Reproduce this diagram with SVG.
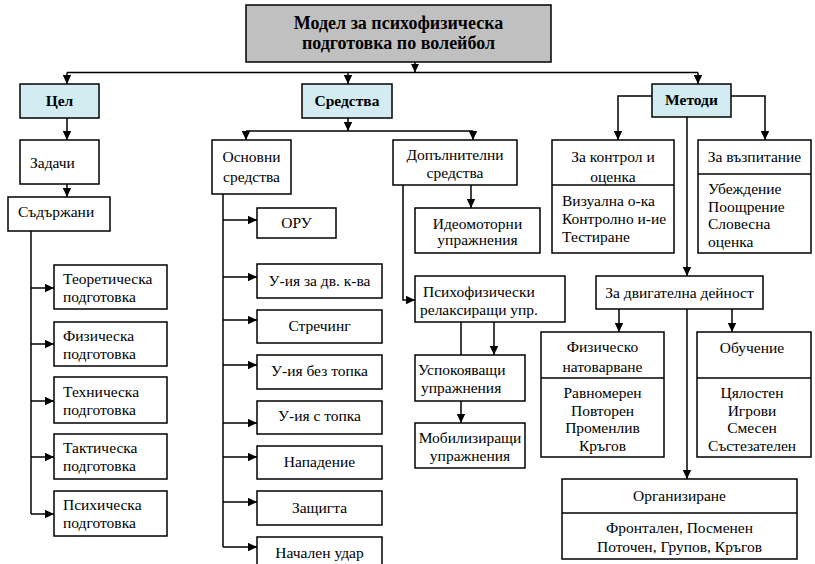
<svg xmlns="http://www.w3.org/2000/svg" width="815" height="564" viewBox="0 0 815 564" font-family="'Liberation Serif', 'DejaVu Serif', serif">
<style>
.b{fill:#fff;stroke:#000;stroke-width:1.5}
.hb{fill:#d2ecf1;stroke:#000;stroke-width:1.5}
.tb{fill:#c0c0c0;stroke:#000;stroke-width:1.5}
text{font-family:'Liberation Serif','DejaVu Serif',serif;font-size:15.5px;fill:#000}
.c{text-anchor:middle}
.bold{font-weight:bold}
.t{font-size:18px;font-weight:bold;text-anchor:middle}
#connectors path{fill:none;stroke:#000;stroke-width:1.5}
.dv{stroke:#000;stroke-width:1.5}
</style>
<defs>
<marker id="a" markerWidth="9" markerHeight="9" refX="9" refY="4.5" orient="auto" markerUnits="userSpaceOnUse"><path d="M0,0.3 L9,4.5 L0,8.7 z" fill="#000"/></marker>
</defs>
<rect width="815" height="564" fill="#fff"/>
<g id="connectors">
<path d="M415,62 V72.5" marker-end="url(#a)"/>
<path d="M67,72.5 H698"/>
<path d="M67,72.5 V84" marker-end="url(#a)"/>
<path d="M348,72.5 V84" marker-end="url(#a)"/>
<path d="M698,72.5 V84" marker-end="url(#a)"/>
<path d="M67,118 V140" marker-end="url(#a)"/>
<path d="M67,184 V197" marker-end="url(#a)"/>
<path d="M31,231 V514"/>
<path d="M31,288 H54" marker-end="url(#a)"/>
<path d="M31,344 H54" marker-end="url(#a)"/>
<path d="M31,401 H54" marker-end="url(#a)"/>
<path d="M31,457 H54" marker-end="url(#a)"/>
<path d="M31,514 H54" marker-end="url(#a)"/>
<path d="M348,118 V131" marker-end="url(#a)"/>
<path d="M246,131 H473"/>
<path d="M246,131 V140" marker-end="url(#a)"/>
<path d="M473,131 V140" marker-end="url(#a)"/>
<path d="M223,194 V547"/>
<path d="M223,220 H257" marker-end="url(#a)"/>
<path d="M223,277 H257" marker-end="url(#a)"/>
<path d="M223,320 H257" marker-end="url(#a)"/>
<path d="M223,365 H257" marker-end="url(#a)"/>
<path d="M223,423 H257" marker-end="url(#a)"/>
<path d="M223,457 H257" marker-end="url(#a)"/>
<path d="M223,502 H257" marker-end="url(#a)"/>
<path d="M223,547 H257" marker-end="url(#a)"/>
<path d="M471,185 V208" marker-end="url(#a)"/>
<path d="M403,185 V300 H415" marker-end="url(#a)"/>
<path d="M461,322 V423" marker-end="url(#a)"/>
<path d="M494,322 V355" marker-end="url(#a)"/>
<path d="M652,96 H618 V140" marker-end="url(#a)"/>
<path d="M731,96 H765 V140" marker-end="url(#a)"/>
<path d="M687,117 V276" marker-end="url(#a)"/>
<path d="M687,309 V479" marker-end="url(#a)"/>
<path d="M619,309 V332" marker-end="url(#a)"/>
<path d="M732,309 V332" marker-end="url(#a)"/>
</g>
<g id="title"><rect class="tb" x="246" y="5" width="305" height="57"/><text class="t" x="398.5" y="29">Модел за психофизическа</text><text class="t" x="398.5" y="49">подготовка по волейбол</text></g>
<g id="cel"><rect class="hb" x="20" y="84" width="79" height="34"/><text class="c bold" x="59.5" y="106">Цел</text></g>
<g id="zadachi"><rect class="b" x="20" y="140" width="79" height="44"/><text x="30" y="168">Задачи</text></g>
<g id="sadarzhani"><rect class="b" x="8" y="197" width="102" height="34"/><text x="18" y="217">Съдържани</text></g>
<g id="teor"><rect class="b" x="54" y="265" width="113" height="44"/><text x="63" y="284">Теоретическа</text><text x="63" y="302">подготовка</text></g>
<g id="fiz"><rect class="b" x="54" y="322" width="113" height="44"/><text x="63" y="341">Физическа</text><text x="63" y="359">подготовка</text></g>
<g id="teh"><rect class="b" x="54" y="377" width="113" height="46"/><text x="63" y="397">Техническа</text><text x="63" y="415">подготовка</text></g>
<g id="takt"><rect class="b" x="54" y="434" width="113" height="45"/><text x="63" y="453">Тактическа</text><text x="63" y="471">подготовка</text></g>
<g id="psih"><rect class="b" x="54" y="491" width="113" height="45"/><text x="63" y="510">Психическа</text><text x="63" y="528">подготовка</text></g>
<g id="sredstva"><rect class="hb" x="302" y="84" width="90" height="34"/><text class="c bold" x="347" y="106">Средства</text></g>
<g id="osnovni"><rect class="b" x="212" y="140" width="79" height="54"/><text class="c" x="251.5" y="162">Основни</text><text class="c" x="251.5" y="182">средства</text></g>
<g id="oru"><rect class="b" x="257" y="208" width="79" height="30"/><text class="c" x="296.5" y="228">ОРУ</text></g>
<g id="dvk"><rect class="b" x="257" y="264" width="125" height="34"/><text class="c" x="319.5" y="286">У-ия за дв. к-ва</text></g>
<g id="strech"><rect class="b" x="257" y="310" width="125" height="33"/><text class="c" x="319.5" y="331">Стречинг</text></g>
<g id="beztopka"><rect class="b" x="257" y="355" width="125" height="34"/><text class="c" x="319.5" y="376">У-ия без топка</text></g>
<g id="stopka"><rect class="b" x="257" y="401" width="125" height="33"/><text class="c" x="319.5" y="421">У-ия с топка</text></g>
<g id="napadenie"><rect class="b" x="257" y="446" width="125" height="33"/><text class="c" x="319.5" y="467">Нападение</text></g>
<g id="zashtita"><rect class="b" x="257" y="491" width="125" height="34"/><text class="c" x="319.5" y="513">Защигта</text></g>
<g id="nachalen"><rect class="b" x="257" y="537" width="125" height="34"/><text class="c" x="319.5" y="558">Начален удар</text></g>
<g id="dopalnitelni"><rect class="b" x="393" y="140" width="124" height="45"/><text class="c" x="455" y="160">Допълнителни</text><text class="c" x="455" y="178">средства</text></g>
<g id="ideomotorni"><rect class="b" x="415" y="208" width="125" height="45"/><text class="c" x="477.5" y="229">Идеомоторни</text><text class="c" x="477.5" y="245">упражнения</text></g>
<g id="psihofiz"><rect class="b" x="415" y="276" width="150" height="46"/><text x="423" y="297">Психофизически</text><text x="420" y="315">релаксиращи упр.</text></g>
<g id="uspokoyavashti"><rect class="b" x="415" y="355" width="110" height="46"/><text x="418" y="375">Успокояващи</text><text x="421" y="393">упражнения</text></g>
<g id="mobilizirashti"><rect class="b" x="415" y="423" width="110" height="45"/><text class="c" x="470" y="443">Мобилизиращи</text><text class="c" x="470" y="461">упражнения</text></g>
<g id="metodi"><rect class="hb" x="652" y="84" width="79" height="33"/><text class="c bold" x="691.5" y="105">Методи</text></g>
<g id="kontrol"><rect class="b" x="552" y="140" width="122" height="113"/><line class="dv" x1="552" y1="185" x2="674" y2="185"/><text class="c" x="613" y="162">За контрол и</text><text class="c" x="613" y="182">оценка</text><text x="562" y="206">Визуална о-ка</text><text x="562" y="224">Контролно и-ие</text><text x="562" y="242">Тестиране</text></g>
<g id="vazpitanie"><rect class="b" x="698" y="140" width="113" height="113"/><line class="dv" x1="698" y1="174" x2="811" y2="174"/><text class="c" x="754.5" y="162">За възпитание</text><text x="708" y="194">Убеждение</text><text x="708" y="212">Поощрение</text><text x="708" y="229">Словесна</text><text x="708" y="247">оценка</text></g>
<g id="dvigatelna"><rect class="b" x="596" y="276" width="167" height="33"/><text class="c" x="679.5" y="298">За двигателна дейност</text></g>
<g id="natovarvane"><rect class="b" x="541" y="332" width="123" height="125"/><line class="dv" x1="541" y1="378" x2="664" y2="378"/><text class="c" x="602.5" y="352">Физическо</text><text class="c" x="602.5" y="372">натоварване</text><text class="c" x="602.5" y="398">Равномерен</text><text class="c" x="602.5" y="416">Повторен</text><text class="c" x="602.5" y="433">Променлив</text><text class="c" x="602.5" y="451">Кръгов</text></g>
<g id="obuchenie"><rect class="b" x="697" y="332" width="114" height="125"/><line class="dv" x1="697" y1="378" x2="811" y2="378"/><text class="c" x="752" y="353">Обучение</text><text class="c" x="752" y="398">Цялостен</text><text class="c" x="752" y="416">Игрови</text><text class="c" x="752" y="433">Смесен</text><text class="c" x="752" y="451">Състезателен</text></g>
<g id="organizirane"><rect class="b" x="562" y="479" width="235" height="80"/><line class="dv" x1="562" y1="513" x2="797" y2="513"/><text class="c" x="679.5" y="501">Организиране</text><text class="c" x="679.5" y="533">Фронтален, Посменен</text><text class="c" x="679.5" y="552">Поточен, Групов, Кръгов</text></g>
</svg>
